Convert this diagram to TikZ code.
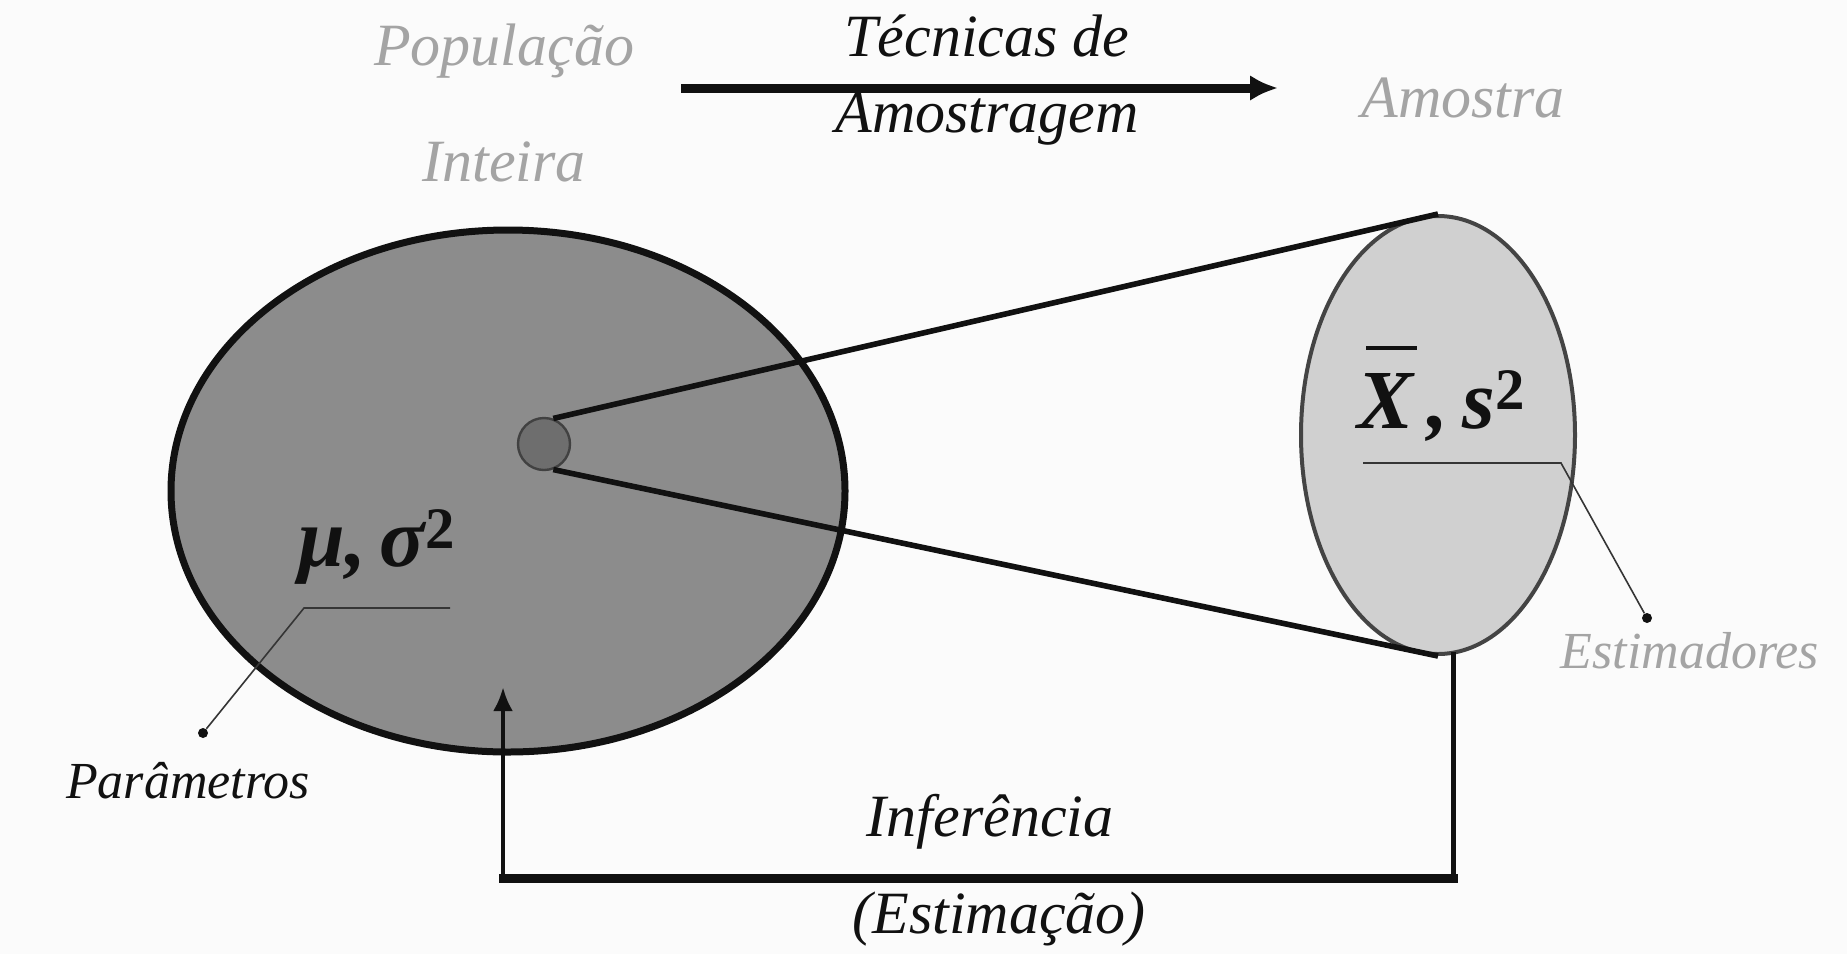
\documentclass[tikz,border=0pt]{standalone}
\usepackage{fontspec}
\setmainfont{Liberation Serif}
\usetikzlibrary{arrows.meta,shapes.geometric}
\definecolor{ink}{HTML}{111111}
\definecolor{paper}{HTML}{FBFBFB}
\definecolor{popfill}{HTML}{8C8C8C}
\definecolor{dotfill}{HTML}{6E6E6E}
\definecolor{smpfill}{HTML}{D0D0D0}
\definecolor{smpline}{HTML}{444444}
\definecolor{fade}{HTML}{A4A4A4}
\newcommand{\xbar}{\makebox[0pt][l]{\hspace{0.1em}\rule[0.93em]{0.6em}{2pt}}X}
\tikzset{
  txt/.style={font=\fontsize{30}{38}\selectfont\itshape,text=ink,inner sep=0pt,align=center},
  faded/.style={txt,text=fade},
  smalltxt/.style={txt,font=\fontsize{26}{30}\selectfont\itshape},
  smallfaded/.style={smalltxt,text=fade},
  sym/.style={font=\fontsize{42}{46}\selectfont\bfseries\itshape,text=ink,inner sep=0pt},
  leader/.style={draw=ink!85,line width=0.8pt},
  tipdot/.style={circle,fill=ink,inner sep=0pt,minimum size=5pt},
  cone/.style={draw=ink,line width=2.8pt},
  flow/.style={-{Latex[length=14pt,width=13pt]},line width=4.5pt,draw=ink},
  infer/.style={draw=ink,line width=2.2pt,line cap=rect},
}

\begin{document}
\begin{tikzpicture}[x=0.5pt,y=-0.5pt]
    \fill[paper] (0,0) rectangle (1847,954);
    % populacao e amostra
    \node[ellipse,draw=ink,line width=3.5pt,fill=popfill,
          minimum width=337pt,minimum height=261pt] (pop) at (508,491) {};
    \node[ellipse,draw=smpline,line width=2pt,fill=smpfill,
          minimum width=137pt,minimum height=219pt] (smp) at (1438,435) {};
    \node[circle,draw=ink!80,line width=1.2pt,fill=dotfill,minimum size=26pt] (grp) at (544,444) {};
    \draw[cone] (grp.70) -- (smp.north);
    \draw[cone] (grp.290) -- (smp.south);
    % titulos
    \node[faded] (poptxt) at (504,103) {População\\[20pt]Inteira};
    \node[txt] (tec) at (987,80) {Técnicas de\\Amostragem};
    \node[faded] (amo) at (1463,98) {Amostra};
    \coordinate (tec-a) at (681,88);
    \coordinate (tec-b) at (1278,88);
    \draw[flow] (tec-a) -- (tec-b);
    % parametros
    \node[sym] (mu) at (377,547) {μ,\,σ\textsuperscript{\upshape 2}};
    \coordinate (mu-a) at (450,608);
    \coordinate (mu-b) at (304,608);
    \node[tipdot] (mu-d) at (203,733) {};
    \draw[leader] (mu-a) -- (mu-b) -- (mu-d);
    \node[smalltxt] (par) at (188,781) {Parâmetros};
    % estimadores
    \node[sym,anchor=base] (xs) at (1442,428) {\xbar\,,\,s\textsuperscript{\upshape 2}};
    \coordinate (xs-a) at (1363,463);
    \coordinate (xs-b) at (1561,463);
    \node[tipdot] (xs-d) at (1647,618) {};
    \draw[leader] (xs-a) -- (xs-b) -- (xs-d);
    \node[smallfaded] (est) at (1690,651) {Estimadores};
    % inferencia
    \coordinate (inf-l) at (503,878);
    \coordinate (inf-r) at (smp.-86 |- inf-l);
    \coordinate (inf-tip) at (503,687);
    \draw[infer] (smp.-86) -- (inf-r);
    \draw[infer,line width=4.5pt] (inf-r) -- (inf-l);
    \draw[infer,line cap=butt,-{Latex[length=12pt,width=10pt]}] (inf-l) -- (inf-tip);
    \node[txt] (inf) at (990,822) {Inferência};
    \node[txt] (estm) at (999,919) {(Estimação)};
\end{tikzpicture}
\end{document}
